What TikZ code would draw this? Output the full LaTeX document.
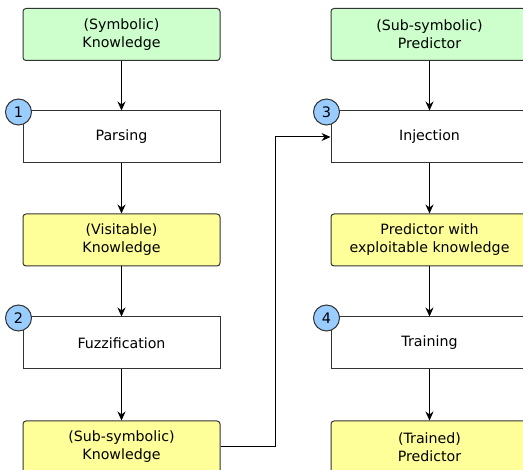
\documentclass[tikz,border=0pt]{standalone}
\usepackage{fontspec}
\setmainfont{DejaVu Sans}
\usetikzlibrary{arrows.meta,calc}
\definecolor{kgreen}{HTML}{CCFFCC}
\definecolor{kyellow}{HTML}{FFFF99}
\definecolor{kblue}{HTML}{99CCFF}
\definecolor{kline}{HTML}{333333}
\begin{document}
\begin{tikzpicture}[x=1pt,y=-1pt,
  base/.style={draw=kline,line width=1pt,minimum width=197pt,minimum height=52pt,
    inner sep=0pt,align=center,font=\fontsize{14.2}{18}\selectfont,anchor=north},
  datagreen/.style={base,fill=kgreen,rounded corners=3pt},
  datayellow/.style={base,fill=kyellow,rounded corners=3pt},
  procbox/.style={base,fill=white},
  badge/.style={circle,draw=kline,line width=1pt,fill=kblue,minimum size=26pt,inner sep=0pt,
    font=\fontsize{14.5}{16}\selectfont},
  flow/.style={draw=black,line width=1pt,-{Stealth[length=9pt,width=8pt,inset=3pt]}}]
\useasboundingbox (0,0) rectangle (523,470);
\clip (0,0) rectangle (523,470);
% left column
\node[datagreen] (sk) at (121.5,8) {(Symbolic)\\Knowledge};
\node[procbox] (pa) at (121.5,110.5) {Parsing};
\node[datayellow] (vk) at (121.5,213.5) {(Visitable)\\Knowledge};
\node[procbox] (fu) at (121.5,316.5) {Fuzzification};
\node[datayellow] (ssk) at (121.5,420.5) {(Sub-symbolic)\\Knowledge};
% right column
\node[datagreen] (sp) at (429.5,8) {(Sub-symbolic)\\Predictor};
\node[procbox] (inj) at (429.5,110.5) {Injection};
\node[datayellow] (pek) at (429.5,213.5) {Predictor with\\exploitable knowledge};
\node[procbox] (tr) at (429.5,316.5) {Training};
\node[datayellow] (tp) at (429.5,420.5) {(Trained)\\Predictor};
% badges
\node[badge] (b1) at ($(pa.north west)+(-4,1.5)$) {1};
\node[badge] (b2) at ($(fu.north west)+(-4,1.5)$) {2};
\node[badge] (b3) at ($(inj.north west)+(-4,1.5)$) {3};
\node[badge] (b4) at ($(tr.north west)+(-4,1.5)$) {4};
% flows
\draw[flow] (sk.south) -- (pa.north);
\draw[flow] (pa.south) -- (vk.north);
\draw[flow] (vk.south) -- (fu.north);
\draw[flow] (fu.south) -- (ssk.north);
\draw[flow] (sp.south) -- (inj.north);
\draw[flow] (inj.south) -- (pek.north);
\draw[flow] (pek.south) -- (tr.north);
\draw[flow] (tr.south) -- (tp.north);
\coordinate (turn) at ($(ssk.east)+(55,0)$);
\draw[flow] (ssk.east) -- (turn) |- (inj.west);
\end{tikzpicture}
\end{document}
